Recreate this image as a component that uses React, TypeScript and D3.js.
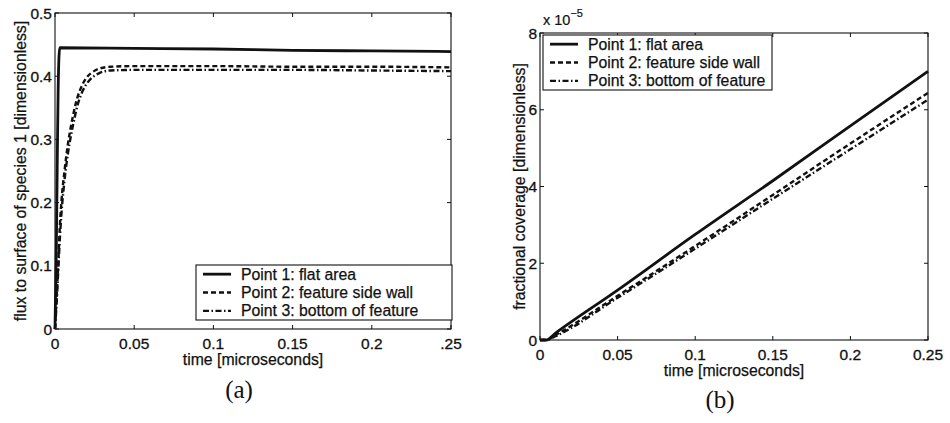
import React from "react";
import * as d3 from "d3";

// ---------- Data ----------
const seriesNames = ["Point 1: flat area", "Point 2: feature side wall", "Point 3: bottom of feature"];

// Panel (a): flux to surface of species 1
const fluxTime1 = [0, 0.0008, 0.0015, 0.002, 0.0025, 0.003, 0.05, 0.1, 0.15, 0.2, 0.25];
const fluxP1 = [0, 0.12, 0.28, 0.38, 0.43, 0.445, 0.444, 0.443, 0.441, 0.44, 0.439];
const fluxTime23 = [0, 0.001, 0.002, 0.003, 0.004, 0.006, 0.008, 0.01, 0.012, 0.014, 0.017, 0.02, 0.024, 0.028, 0.035, 0.05, 0.1, 0.15, 0.2, 0.25];
const fluxP2 = [0, 0.05, 0.1, 0.16, 0.2, 0.25, 0.29, 0.32, 0.345, 0.365, 0.385, 0.398, 0.407, 0.412, 0.415, 0.416, 0.416, 0.415, 0.415, 0.414];
const fluxP3 = [0, 0.04, 0.09, 0.14, 0.18, 0.235, 0.275, 0.305, 0.33, 0.352, 0.374, 0.388, 0.399, 0.405, 0.409, 0.41, 0.41, 0.41, 0.409, 0.408];

// Panel (b): fractional coverage (x 1e-5)
const covTime = [0, 0.004, 0.01, 0.05, 0.1, 0.15, 0.2, 0.25];
const covP1 = [0, 0.0, 0.18, 1.3, 2.75, 4.15, 5.58, 7.0];
const covP2 = [0, 0.0, 0.13, 1.15, 2.45, 3.78, 5.12, 6.44];
const covP3 = [0, 0.0, 0.1, 1.1, 2.38, 3.68, 4.97, 6.26];

const fluxXTicks = [0, 0.05, 0.1, 0.15, 0.2, 0.25];
const fluxXTickLabels = ["0", "0.05", "0.1", "0.15", "0.2", ".25"];
const fluxYTicks = [0, 0.1, 0.2, 0.3, 0.4, 0.5];
const fluxYTickLabels = ["0", "0.1", "0.2", "0.3", "0.4", "0.5"];

const covXTicks = [0, 0.05, 0.1, 0.15, 0.2, 0.25];
const covXTickLabels = ["0", "0.05", "0.1", "0.15", "0.2", "0.25"];
const covYTicks = [0, 2, 4, 6, 8];
const covYTickLabels = ["0", "2", "4", "6", "8"];

const dashStyles = ["none", "5,3", "6,2.5,1.5,2.5"];
const widths = [2.8, 2.4, 2.4];

const SANS = "'Liberation Sans', Arial, Helvetica, sans-serif";
const SERIF = "'Liberation Serif', 'DejaVu Serif', serif";
const INK = "#111";

type Series = { t: number[]; v: number[] };

function Panel(props: {
  left: number; right: number; top: number; bottom: number;
  xDomain: [number, number]; yDomain: [number, number];
  xTicks: number[]; xLabels: string[]; yTicks: number[]; yLabels: string[];
  series: Series[]; xTitle: string; yTitle: string; yTitleX: number;
  xTitleY: number; xTickY: number; caption: string; captionY: number;
  legend: { x0: number; x1: number; y0: number; y1: number };
  exponent?: boolean;
}) {
  const p = props;
  const x = d3.scaleLinear().domain(p.xDomain).range([p.left, p.right]);
  const y = d3.scaleLinear().domain(p.yDomain).range([p.bottom, p.top]);
  const line = d3.line<[number, number]>().x((d) => x(d[0])).y((d) => y(d[1])).curve(d3.curveMonotoneX);
  const tl = 4;
  const cx = (p.left + p.right) / 2;
  const lg = p.legend;
  const rowH = (lg.y1 - lg.y0) / 3;
  return (
    <g>
      <rect x={p.left} y={p.top} width={p.right - p.left} height={p.bottom - p.top} fill="none" stroke={INK} strokeWidth={1.1} />
      {p.xTicks.map((t, i) => (
        <g key={"xt" + i}>
          <line x1={x(t)} x2={x(t)} y1={p.bottom} y2={p.bottom - tl} stroke={INK} />
          <line x1={x(t)} x2={x(t)} y1={p.top} y2={p.top + tl} stroke={INK} />
          <text x={x(t)} y={p.xTickY} textAnchor="middle" fontFamily={SANS} fontSize={15.5} fill={INK} stroke={INK} strokeWidth={0.3}>{p.xLabels[i]}</text>
        </g>
      ))}
      {p.yTicks.map((t, i) => (
        <g key={"yt" + i}>
          <line x1={p.left} x2={p.left + tl} y1={y(t)} y2={y(t)} stroke={INK} />
          <line x1={p.right} x2={p.right - tl} y1={y(t)} y2={y(t)} stroke={INK} />
          <text x={p.left - 3} y={y(t) + 5.5} textAnchor="end" fontFamily={SANS} fontSize={15.5} fill={INK} stroke={INK} strokeWidth={0.3}>{p.yLabels[i]}</text>
        </g>
      ))}
      {p.exponent && (
        <text x={p.left + 3} y={p.top - 8} fontFamily={SANS} fontSize={14.5} fill={INK} stroke={INK} strokeWidth={0.2}>
          x 10<tspan dy={-8} fontSize={11}>−5</tspan>
        </text>
      )}
      {p.series.map((s, i) => (
        <path key={"s" + i} d={line(s.t.map((t, j) => [t, s.v[j]] as [number, number])) || ""} fill="none" stroke={INK} strokeWidth={widths[i]} strokeDasharray={dashStyles[i]} />
      ))}
      <rect x={lg.x0} y={lg.y0} width={lg.x1 - lg.x0} height={lg.y1 - lg.y0} fill="#fff" stroke={INK} strokeWidth={1.1} />
      {seriesNames.map((n, i) => {
        const ry = lg.y0 + rowH * (i + 0.5);
        return (
          <g key={"lg" + i}>
            <line x1={lg.x0 + 7} x2={lg.x0 + 35} y1={ry} y2={ry} stroke={INK} strokeWidth={widths[i]} strokeDasharray={dashStyles[i]} />
            <text x={lg.x0 + 45} y={ry + 5.5} fontFamily={SANS} fontSize={15.8} fill={INK} stroke={INK} strokeWidth={0.25}>{n}</text>
          </g>
        );
      })}
      <text x={cx} y={p.xTitleY} textAnchor="middle" fontFamily={SANS} fontSize={15.8} fill={INK} stroke={INK} strokeWidth={0.25}>{p.xTitle}</text>
      <text transform={`translate(${p.yTitleX},${(p.top + p.bottom) / 2}) rotate(-90)`} textAnchor="middle" fontFamily={SANS} fontSize={15.8} fill={INK} stroke={INK} strokeWidth={0.25}>{p.yTitle}</text>
      <text x={cx - 14} y={p.captionY} textAnchor="middle" fontFamily={SERIF} fontSize={25} fill={INK}>{p.caption}</text>
    </g>
  );
}

export default function App() {
  return (
    <svg width={950} height={423} style={{ position: "fixed", left: 0, top: 0, background: "#fff" }}>
      <rect x={0} y={0} width={950} height={423} fill="#fff" />
      <Panel
        left={55} right={451} top={13} bottom={329}
        xDomain={[0, 0.25]} yDomain={[0, 0.5]}
        xTicks={fluxXTicks} xLabels={fluxXTickLabels} yTicks={fluxYTicks} yLabels={fluxYTickLabels}
        series={[{ t: fluxTime1, v: fluxP1 }, { t: fluxTime23, v: fluxP2 }, { t: fluxTime23, v: fluxP3 }]}
        xTitle="time [microseconds]" yTitle="flux to surface of species 1 [dimensionless]" yTitleX={26}
        xTickY={349} xTitleY={365} caption="(a)" captionY={398}
        legend={{ x0: 196, x1: 452, y0: 265, y1: 320 }}
      />
      <Panel
        left={540} right={928} top={33} bottom={340}
        xDomain={[0, 0.25]} yDomain={[0, 8]}
        xTicks={covXTicks} xLabels={covXTickLabels} yTicks={covYTicks} yLabels={covYTickLabels}
        series={[{ t: covTime, v: covP1 }, { t: covTime, v: covP2 }, { t: covTime, v: covP3 }]}
        xTitle="time [microseconds]" yTitle="fractional coverage [dimensionless]" yTitleX={525}
        xTickY={360} xTitleY={376} caption="(b)" captionY={408}
        legend={{ x0: 543, x1: 772, y0: 35, y1: 90 }}
        exponent
      />
    </svg>
  );
}
